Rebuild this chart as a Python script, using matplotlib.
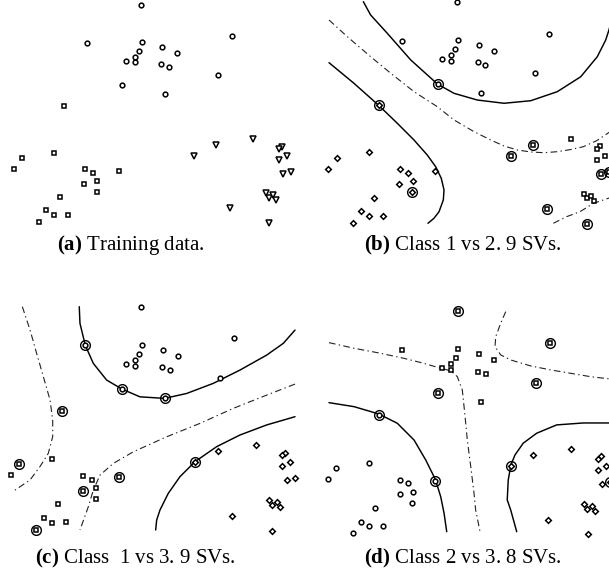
import numpy as np
import matplotlib
matplotlib.use("Agg")
import matplotlib.pyplot as plt

W, H = 609, 579

# Training data, in the coordinates of panel (a) (y grows downwards)
class1_x = [141.3, 86.7, 231.7, 142.0, 139.3, 162.3, 177.0, 135.0, 126.3, 135.0, 161.3, 169.0, 218.3, 122.0, 164.7]
class1_y = [5.0, 42.7, 35.7, 42.0, 50.7, 47.0, 52.7, 56.7, 60.7, 62.3, 64.0, 66.7, 74.7, 85.3, 94.0]
class2_x = [64.0, 54.0, 22.3, 14.3, 84.7, 93.0, 119.3, 97.3, 84.3, 96.7, 59.7, 46.3, 54.3, 68.3, 39.0]
class2_y = [106.3, 152.7, 158.3, 169.0, 169.3, 173.0, 170.7, 181.0, 183.7, 191.7, 197.0, 210.3, 215.0, 214.7, 221.7]
class3_x = [253.0, 215.7, 193.7, 281.7, 278.7, 286.7, 278.7, 283.0, 290.7, 265.7, 268.7, 273.3, 276.3, 229.7, 269.0]
class3_y = [139.3, 145.0, 156.0, 146.7, 149.0, 156.0, 159.7, 173.7, 171.7, 193.3, 197.7, 195.0, 200.0, 208.3, 222.7]

# Support vectors (indices into each class) for every pairwise classifier
sv_b = {1: [13], 2: [0, 9], 3: [1, 2, 7, 8, 13, 14]}
sv_c = {1: [1, 13, 14], 2: [0, 2, 6, 8, 14], 3: [2]}
sv_d = {1: [0, 2, 12, 13], 2: [0, 6], 3: [2, 8]}

# Decision boundaries (solid) and midlines (dash-dot)
b_solid = [
    [(48.7, 4.4), (55.9, 17.5), (72.3, 35.5), (95.4, 61.7), (121.6, 85.3), (138.0, 94.5), (161.0, 101.1),
     (187.3, 104.3), (213.6, 101.8), (239.8, 92.9), (262.9, 78.2), (279.2, 58.5), (287.5, 42.1), (290.7, 32.2),
     (294.0, 20.0)],
    [(14.9, 64.4), (39.5, 84.7), (63.8, 106.3), (82.2, 124.0), (98.6, 140.4), (111.7, 155.2), (120.0, 166.7),
     (125.5, 178.1), (128.2, 189.6), (127.5, 199.4), (123.3, 210.9), (118.3, 217.4), (112.4, 222.3)],
]
b_dash = [
    [(14.9, 22.4), (32.9, 38.8), (55.9, 58.5), (75.7, 74.8), (98.6, 92.9), (121.6, 107.7), (138.0, 120.7),
     (157.7, 132.2), (174.2, 140.4), (187.3, 146.3), (200.4, 150.2), (213.6, 152.2), (226.7, 152.9),
     (239.8, 151.9), (253.0, 149.8), (265.4, 147.0), (278.6, 141.1), (290.7, 133.0), (298.0, 127.0)],
    [(235.9, 222.3), (249.0, 215.8), (262.2, 210.9), (275.3, 202.7), (290.1, 197.7), (300.0, 194.0)],
]
c_solid = [
    [(80.8, 5.0), (81.5, 21.2), (86.7, 42.6), (94.5, 60.1), (107.5, 76.3), (122.5, 85.1), (140.0, 92.6),
     (164.1, 94.1), (185.6, 89.3), (211.5, 79.5), (237.5, 66.6), (263.6, 52.0), (279.8, 40.6), (291.2, 27.7)],
    [(291.2, 111.9), (263.6, 119.9), (237.5, 129.7), (214.8, 141.0), (193.7, 155.6), (179.0, 170.2),
     (167.6, 186.4), (159.5, 202.6), (156.3, 212.3), (155.3, 222.0)],
]
c_dash = [
    [(25.3, 5.0), (32.8, 27.6), (39.3, 50.6), (45.8, 73.0), (52.3, 95.7), (54.9, 115.1), (54.9, 131.3),
     (50.6, 147.5), (42.5, 160.4), (32.8, 173.4), (24.0, 179.3), (15.9, 184.8)],
    [(291.2, 80.2), (263.6, 90.9), (231.0, 103.8), (198.5, 118.4), (166.1, 131.4), (133.5, 146.0),
     (114.0, 157.3), (101.0, 168.7), (94.5, 183.3), (89.6, 199.5), (81.5, 222.0)],
]
d_solid = [
    [(15.0, 94.3), (39.6, 98.2), (63.8, 105.3), (82.1, 114.4), (98.5, 130.7), (110.0, 150.2), (119.4, 169.0),
     (124.7, 186.0), (128.0, 202.2), (130.6, 220.1)],
    [(292.0, 114.1), (264.6, 114.1), (238.5, 116.0), (218.9, 124.1), (205.7, 133.8), (197.6, 145.3),
     (193.6, 155.0), (191.0, 169.6), (190.0, 189.1), (193.4, 198.9), (199.3, 220.1)],
]
d_dash = [
    [(15.0, 35.8), (39.6, 41.3), (65.8, 46.2), (88.6, 51.1), (108.3, 56.0), (124.7, 60.8), (134.5, 63.2),
     (141.0, 69.0), (145.9, 82.0), (148.3, 104.7), (150.8, 130.7), (154.2, 156.7), (157.4, 182.6),
     (159.0, 198.9), (163.3, 220.1)],
    [(188.5, 5.6), (183.6, 16.9), (178.7, 30.0), (178.0, 39.7), (183.6, 47.8), (193.4, 52.7), (213.0, 58.5),
     (232.7, 62.4), (252.3, 65.7), (271.9, 69.0), (291.0, 71.2)],
]

captions = [
    r"$\mathbf{(a)}$ Training data.",
    r"$\mathbf{(b)}$ Class 1 vs 2. 9 SVs.",
    r"$\mathbf{(c)}$ Class  1 vs 3. 9 SVs.",
    r"$\mathbf{(d)}$ Class 2 vs 3. 8 SVs.",
]

plt.rcParams["font.family"] = ["Liberation Serif", "DejaVu Serif"]
plt.rcParams["mathtext.fontset"] = "custom"
plt.rcParams["mathtext.rm"] = "Liberation Serif"
plt.rcParams["mathtext.bf"] = "Liberation Serif:bold"

MARKER_SIZE = {"o": 3.4, "s": 3.0, "v": 4.4, "D": 2.9}


def add_panel(fig, box, scale, offset):
    # box in figure pixels, fig_px = scale * data + offset
    x0, y0, x1, y1 = box
    ax = fig.add_axes([x0 / W, 1 - y1 / H, (x1 - x0) / W, (y1 - y0) / H])
    ax.set_xlim((x0 - offset[0]) / scale[0], (x1 - offset[0]) / scale[0])
    ax.set_ylim((y1 - offset[1]) / scale[1], (y0 - offset[1]) / scale[1])
    ax.axis("off")
    return ax


def draw_points(ax, markers, svs=None):
    classes = {1: (class1_x, class1_y), 2: (class2_x, class2_y), 3: (class3_x, class3_y)}
    for k, (xs, ys) in classes.items():
        m = markers[k]
        ax.plot(xs, ys, ls="none", marker=m, ms=MARKER_SIZE[m], mfc="white", mec="black", mew=1.1,
                clip_on=False)
        if svs:
            idx = svs[k]
            ax.plot(np.array(xs)[idx], np.array(ys)[idx], ls="none", marker="o", ms=7.0, mfc="none",
                    mec="black", mew=1.0, clip_on=False)


def draw_curves(ax, solid, dash):
    for c in solid:
        c = np.array(c)
        ax.plot(c[:, 0], c[:, 1], color="black", lw=1.05, solid_capstyle="round")
    for c in dash:
        c = np.array(c)
        ax.plot(c[:, 0], c[:, 1], color="#222222", lw=0.8, ls=(0, (6, 3, 1.2, 3)))


def main():
    fig = plt.figure(figsize=(W / 100, H / 100), dpi=100)

    ax = add_panel(fig, (0, 0, 304, 232), (1.0, 1.0), (0.0, 0.0))
    draw_points(ax, {1: "o", 2: "s", 3: "v"})

    ax = add_panel(fig, (304, 0, 609, 232), (1.015, 1.017), (313.9, -2.8))
    draw_curves(ax, b_solid, b_dash)
    draw_points(ax, {1: "o", 2: "D", 3: "s"}, sv_b)

    ax = add_panel(fig, (0, 290, 304, 540), (1.0255, 1.029), (-3.6, 301.55))
    draw_curves(ax, c_solid, c_dash)
    draw_points(ax, {1: "o", 2: "s", 3: "D"}, sv_c)

    ax = add_panel(fig, (304, 290, 609, 540), (1.0186, 1.026), (313.7, 305.9))
    draw_curves(ax, d_solid, d_dash)
    draw_points(ax, {1: "s", 2: "o", 3: "D"}, sv_d)

    for text, (cx, cy) in zip(captions, [(131, 245), (463, 245), (135, 558), (463, 558)]):
        fig.text(cx / W, 1 - cy / H, text, ha="center", va="center", fontsize=15)

    fig.savefig("out.png", dpi=100)


if __name__ == "__main__":
    main()
